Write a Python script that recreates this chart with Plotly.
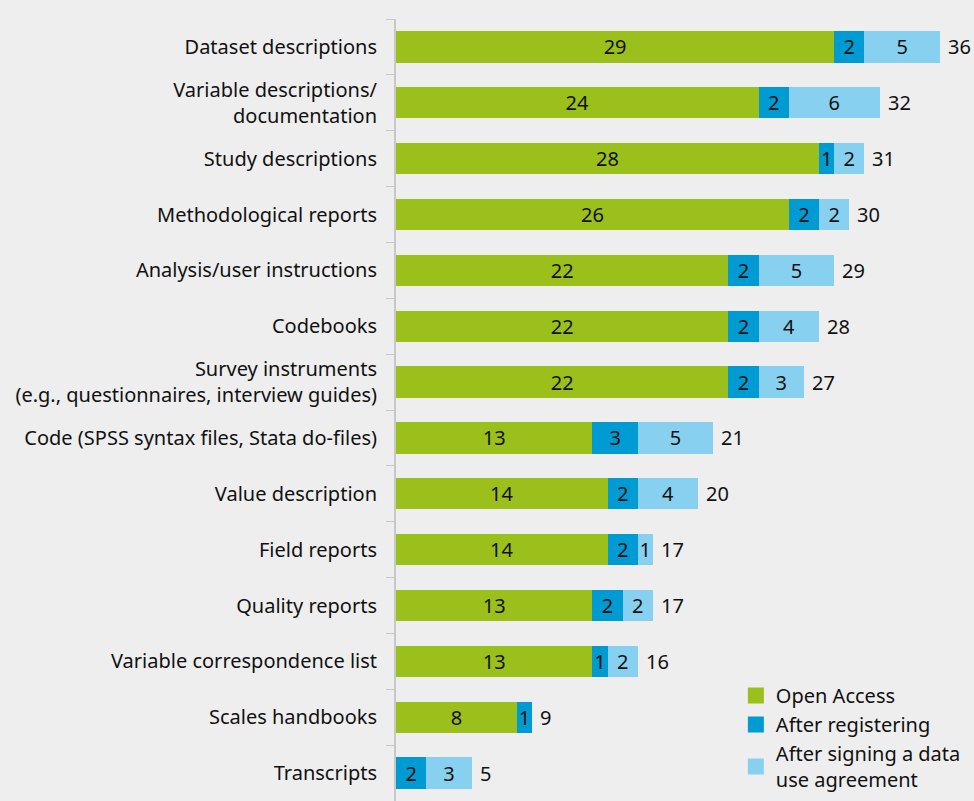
import plotly.graph_objects as go

categories = [
    "Dataset descriptions",
    "Variable descriptions/<br>documentation",
    "Study descriptions",
    "Methodological reports",
    "Analysis/user instructions",
    "Codebooks",
    "Survey instruments<br>(e.g., questionnaires, interview guides)",
    "Code (SPSS syntax files, Stata do-files)",
    "Value description",
    "Field reports",
    "Quality reports",
    "Variable correspondence list",
    "Scales handbooks",
    "Transcripts",
]
open_access = [29, 24, 28, 26, 22, 22, 22, 13, 14, 14, 13, 13, 8, 0]
after_registering = [2, 2, 1, 2, 2, 2, 2, 3, 2, 2, 2, 1, 1, 2]
after_agreement = [5, 6, 2, 2, 5, 4, 3, 5, 4, 1, 2, 2, 0, 3]
series_names = ["Open Access", "After registering", "After signing a data<br>use agreement"]
colors = ["#9bbf1b", "#009bd2", "#88d0ef"]

totals = [a + b + c for a, b, c in zip(open_access, after_registering, after_agreement)]

FONT = "Noto Sans"
FS = 20
TXT = "#111111"
fig = go.Figure()
for name, vals, col in zip(series_names, [open_access, after_registering, after_agreement], colors):
    fig.add_trace(go.Bar(
        y=categories, x=vals, orientation="h", name=name,
        marker=dict(color=col, line=dict(width=0)),
        text=[str(v) if v else "" for v in vals],
        textposition="inside", insidetextanchor="middle", constraintext="none",
        textangle=0,
        textfont=dict(color=TXT, size=FS, family=FONT),
        showlegend=False, hoverinfo="skip",
    ))
    fig.add_trace(go.Scatter(
        x=[None], y=[None], mode="markers", name=name,
        marker=dict(symbol="square", size=19, color=col),
        showlegend=True,
    ))

for cat, tot in zip(categories, totals):
    fig.add_annotation(x=tot, y=cat, text=str(tot), showarrow=False,
                       xanchor="left", xshift=6, yanchor="middle",
                       font=dict(color=TXT, size=FS, family=FONT))

fig.update_layout(
    width=974, height=801,
    barmode="stack", bargap=0.44,
    paper_bgcolor="#eeeeee", plot_bgcolor="#eeeeee",
    margin=dict(l=396, r=0, t=19, b=0),
    font=dict(family=FONT, size=FS, color=TXT),
    xaxis=dict(range=[0, 38.25], showgrid=False, zeroline=False, showticklabels=False,
               ticks="", showline=False, fixedrange=True),
    yaxis=dict(autorange="reversed", showline=True, linecolor="#c8c8c8", linewidth=2,
               ticks="outside", tickson="boundaries", ticklen=8, tickcolor="#c8c8c8",
               tickwidth=1, ticklabelstandoff=13, showgrid=False, automargin=False,
               fixedrange=True, tickfont=dict(size=FS, family=FONT, color=TXT)),
    legend=dict(x=0.588, y=0.160, xanchor="left", yanchor="top",
                bgcolor="rgba(0,0,0,0)", font=dict(size=FS, family=FONT),
                itemsizing="trace", traceorder="normal", tracegroupgap=0),
)

fig.write_html("out.html", config={"displayModeBar": False},
               post_script="document.body.style.margin='0';")
